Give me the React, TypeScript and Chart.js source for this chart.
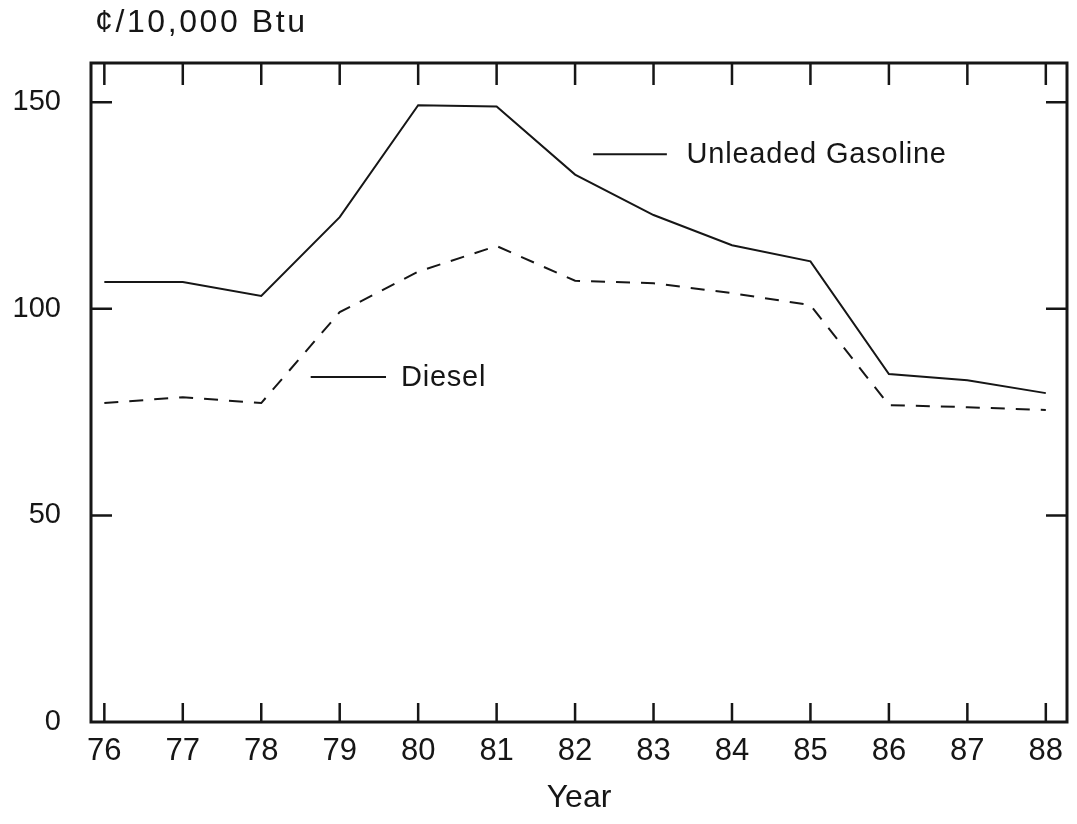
import React, { useEffect, useRef } from "react";
import { Chart, registerables } from "chart.js";

Chart.register(...registerables);

const years = [76, 77, 78, 79, 80, 81, 82, 83, 84, 85, 86, 87, 88];
const gasoline = [106.5, 106.5, 103.1, 122.2, 149.3, 149.0, 132.5, 122.7, 115.4, 111.5, 84.2, 82.7, 79.6];
const diesel = [77.2, 78.6, 77.2, 99.2, 109.0, 115.2, 106.8, 106.2, 103.8, 100.9, 76.7, 76.2, 75.5];
const yTickValues = [0, 50, 100, 150];
const yInnerTicks = [50, 100, 150];
const seriesNames = ["Unleaded Gasoline", "Diesel"];
const unitLabel = "¢/10,000 Btu";
const xTitle = "Year";
// label anchors in data units: [leaderStartX, leaderEndX, textX, y]
const gasolineLabelAt = [82.23, 83.17, 83.42, 137.4];
const dieselLabelAt = [78.63, 79.59, 79.78, 83.5];

const INK = "#161616";
const FONT = "'Liberation Sans', Arial, Helvetica, sans-serif";

const framePlugin = {
  id: "frameAndNotes",
  afterDatasetsDraw(chart: any) {
    const { ctx, chartArea: a, scales } = chart;
    const x = scales.x;
    const y = scales.y;
    ctx.save();
    ctx.strokeStyle = INK;
    ctx.lineWidth = 3;
    ctx.strokeRect(a.left, a.top, a.right - a.left, a.bottom - a.top);
    ctx.lineWidth = 2.5;
    ctx.beginPath();
    years.forEach((v) => {
      const px = x.getPixelForValue(v);
      ctx.moveTo(px, a.bottom);
      ctx.lineTo(px, a.bottom - 19);
      ctx.moveTo(px, a.top);
      ctx.lineTo(px, a.top + 22);
    });
    yInnerTicks.forEach((v) => {
      const py = y.getPixelForValue(v);
      ctx.moveTo(a.left, py);
      ctx.lineTo(a.left + 21, py);
      ctx.moveTo(a.right, py);
      ctx.lineTo(a.right - 21, py);
    });
    ctx.stroke();

    // series labels with leader lines
    ctx.lineWidth = 2;
    const notes = [
      [seriesNames[0], gasolineLabelAt],
      [seriesNames[1], dieselLabelAt],
    ] as any[];
    ctx.fillStyle = INK;
    ctx.font = `29px ${FONT}`;
    (ctx as any).letterSpacing = "0.8px";
    ctx.textBaseline = "middle";
    ctx.textAlign = "left";
    notes.forEach(([text, at]) => {
      const py = y.getPixelForValue(at[3]);
      ctx.beginPath();
      ctx.moveTo(x.getPixelForValue(at[0]), py);
      ctx.lineTo(x.getPixelForValue(at[1]), py);
      ctx.stroke();
      ctx.fillText(text, x.getPixelForValue(at[2]), py + 1);
    });

    // unit label at top-left
    ctx.font = `32px ${FONT}`;
    (ctx as any).letterSpacing = "2.6px";
    ctx.fillText(unitLabel, 95, 23);
    (ctx as any).letterSpacing = "0px";
    ctx.restore();
  },
};

export default function App() {
  const canvasRef = useRef<HTMLCanvasElement | null>(null);

  useEffect(() => {
    if (!canvasRef.current) return;
    const chart = new Chart(canvasRef.current, {
      type: "line",
      data: {
        datasets: [
          {
            label: seriesNames[0],
            data: years.map((yr, i) => ({ x: yr, y: gasoline[i] })),
            borderColor: INK,
            borderWidth: 2,
            pointRadius: 0,
            tension: 0,
            fill: false,
          },
          {
            label: seriesNames[1],
            data: years.map((yr, i) => ({ x: yr, y: diesel[i] })),
            borderColor: INK,
            borderWidth: 2,
            borderDash: [14, 11],
            pointRadius: 0,
            tension: 0,
            fill: false,
          },
        ],
      },
      options: {
        animation: false,
        responsive: true,
        maintainAspectRatio: false,
        layout: { padding: { left: 0, right: 10, top: 63, bottom: 0 } },
        plugins: {
          legend: { display: false },
          tooltip: { enabled: false },
          title: { display: false },
        },
        scales: {
          x: {
            type: "linear",
            min: 75.83,
            max: 88.27,
            afterBuildTicks: (s: any) => {
              s.ticks = years.map((v) => ({ value: v }));
            },
            afterFit: (s: any) => {
              s.height = 102;
            },
            grid: { display: false, drawTicks: false },
            border: { display: false },
            ticks: {
              autoSkip: false,
              maxRotation: 0,
              padding: 11,
              color: INK,
              font: { family: FONT, size: 31 },
              callback: (v: any) => String(v),
            },
            title: {
              display: true,
              text: xTitle,
              color: INK,
              font: { family: FONT, size: 32 },
              padding: { top: 0, bottom: 7 },
            },
          },
          y: {
            type: "linear",
            min: 0,
            max: 159.5,
            afterBuildTicks: (s: any) => {
              s.ticks = yTickValues.map((v) => ({ value: v }));
            },
            afterFit: (s: any) => {
              s.width = 91;
            },
            grid: { display: false, drawTicks: false },
            border: { display: false },
            ticks: {
              padding: 30,
              color: INK,
              font: { family: FONT, size: 29 },
              callback: (v: any) => String(v),
            },
          },
        },
      },
      plugins: [framePlugin],
    });
    return () => chart.destroy();
  }, []);

  return (
    <div style={{ position: "fixed", left: 0, top: 0, width: 1077, height: 824, background: "#fff" }}>
      <canvas ref={canvasRef} />
    </div>
  );
}
